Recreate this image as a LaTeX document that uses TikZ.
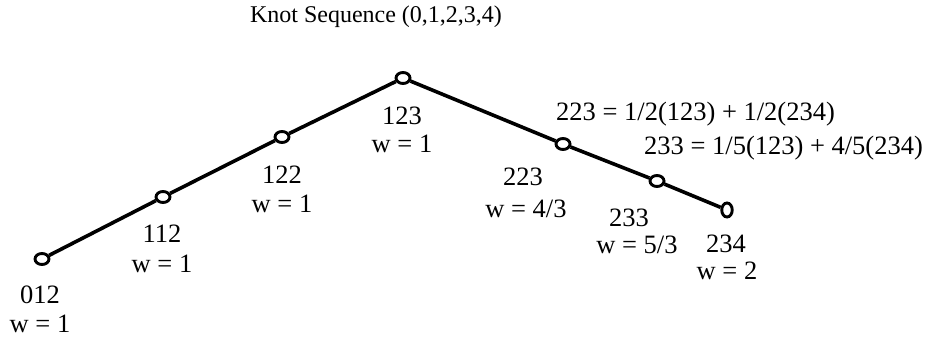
\documentclass[tikz,border=0pt]{standalone}
\usepackage{fontspec}
\setmainfont{Liberation Serif}
\usetikzlibrary{shapes.geometric}
\begin{document}
\begin{tikzpicture}[x=1pt,y=-1pt,
  knot/.style={ellipse,draw,line width=2.9pt,fill=white,inner sep=0pt,minimum width=14pt,minimum height=11pt},
  tallknot/.style={knot,minimum width=10.5pt,minimum height=14pt},
  seg/.style={line width=3.6pt},
  lbl/.style={inner sep=0pt,font=\fontsize{26.5}{30}\selectfont},
  ttl/.style={inner sep=0pt,font=\fontsize{24}{28}\selectfont}]
\useasboundingbox (0,0) rectangle (930,339);
\node[knot] (n012) at (42,259) {};
\node[knot] (n112) at (163,197) {};
\node[knot] (n122) at (282,137) {};
\node[knot] (n123) at (403,78) {};
\node[knot] (n223) at (563,144) {};
\node[knot] (n233) at (657,181) {};
\node[tallknot] (n234) at (727,210) {};
\draw[seg] (n012) -- (n112);
\draw[seg] (n112) -- (n122);
\draw[seg] (n122) -- (n123);
\draw[seg] (n123) -- (n223);
\draw[seg] (n223) -- (n233);
\draw[seg] (n233) -- (n234);
\node[ttl] (title) at (376,17) {Knot Sequence (0,1,2,3,4)};
\node[lbl] (l012) at (40,295) {012};
\node[lbl] (w012) at (40,324) {w = 1};
\node[lbl] (l112) at (162,234) {112};
\node[lbl] (w112) at (162,264) {w = 1};
\node[lbl] (l122) at (282,175) {122};
\node[lbl] (w122) at (282,204) {w = 1};
\node[lbl] (l123) at (402,116) {123};
\node[lbl] (w123) at (402,144) {w = 1};
\node[lbl] (l223) at (523,177) {223};
\node[lbl] (w223) at (526,209) {w = 4/3};
\node[lbl] (l233) at (629,218) {233};
\node[lbl] (w233) at (637,245) {w = 5/3};
\node[lbl] (l234) at (726,244) {234};
\node[lbl] (w234) at (727,271) {w = 2};
\node[lbl,anchor=west] (eq1) at (556,114) {223 = 1/2(123) + 1/2(234)};
\node[lbl,anchor=west] (eq2) at (644,148) {233 = 1/5(123) + 4/5(234)};
\end{tikzpicture}
\end{document}
